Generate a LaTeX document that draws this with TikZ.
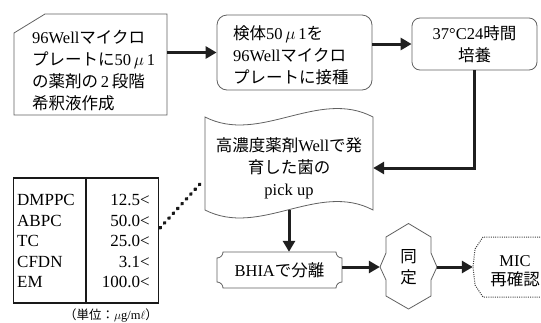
\documentclass[tikz,border=0pt]{standalone}
\usepackage{fontspec}
\setmainfont{Liberation Serif}
\newfontfamily\jpf{Noto Sans CJK JP}
\newcommand{\J}[1]{{\jpf #1}}
\usetikzlibrary{arrows.meta,calc}
\begin{document}
\begin{tikzpicture}[x=1pt,y=-1pt,
  outl/.style={draw=black!62, line width=0.8pt},
  flow/.style={draw=black!88, line width=3pt, -{Triangle[length=11pt,width=12pt]}},
  txt/.style={inner sep=0pt, font=\fontsize{16.5}{22}\selectfont},
  holder/.style={inner sep=0pt},
  dotline/.style={draw=black!90, line width=3.6pt, line cap=round, dash pattern=on 0.8pt off 5.7pt},
  micline/.style={draw=black!75, line width=1pt, dash pattern=on 1pt off 1.2pt}]
\useasboundingbox (0,0) rectangle (541,322);

% box 1 (manual input)
\node[holder, minimum width=153pt, minimum height=101pt] (b1) at (90.5,64.5) {};
\draw[outl] (14,115) -- (14,33) -- (45,14) -- (167,14) -- (167,115) -- cycle;
\node[txt, anchor=west, align=left] (b1t) at (32,70.5)
  {96Well\J{マイクロ}\\\J{プレートに}50\,$\mu$\,1\\\J{の薬剤の}\,2\,\J{段階}\\\J{希釈液作成}};

% box 2
\node[outl, holder, rounded corners=10pt, minimum width=155pt, minimum height=75pt] (b2) at (294.5,52.5) {};
\node[txt, anchor=west, align=left] (b2t) at (233,55)
  {\J{検体}50\,$\mu$\,1\J{を}\\96Well\J{マイクロ}\\\J{プレートに接種}};

% box 3
\node[outl, txt, rounded corners=8pt, minimum width=125pt, minimum height=52pt,
      align=center] (b3) at (474.5,44) {37°C24\J{時間}\\\J{培養}};

% tape
\node[txt, minimum width=168pt, minimum height=84pt, align=center] (tp) at (289,168)
  {\J{高濃度薬剤}Well\J{で発}\\\J{育した菌の}\\pick up};
\draw[outl] (205,117) .. controls (260,145) and (318,88) .. (373,117)
  -- (373,210) .. controls (318,181) and (260,238) .. (205,210) -- cycle;

% BHIA
\node[txt, minimum width=125pt, minimum height=36pt] (bh) at (279.5,270) {BHIA\J{で分離}};
\draw[outl] (223,252) -- (336,252) .. controls (336,255.3) and (338.7,258) .. (342,258)
  -- (342,282) .. controls (338.7,282) and (336,284.7) .. (336,288)
  -- (223,288) .. controls (223,284.7) and (220.3,282) .. (217,282)
  -- (217,258) .. controls (220.3,258) and (223,255.3) .. (223,252) -- cycle;

% identification star
\node[txt, minimum width=57pt, minimum height=86pt, align=center,
      font=\fontsize{16.5}{21}\selectfont] (dt) at (408.5,267) {\J{同}\\\J{定}};
\draw[outl] (408.5,223.5) -- (431,237) -- (431,253) -- (437,267) -- (431,280) -- (431,296)
  -- (408.5,309) -- (386,296) -- (386,280) -- (380,267) -- (386,253) -- (386,237) -- cycle;

% MIC
\node[txt, minimum width=84pt, minimum height=60pt, align=center,
      font=\fontsize{16.5}{19}\selectfont] (mic) at (515,271) {MIC\\\J{再確認}};
\draw[micline] (560,237) -- (483,237) -- (475,249) -- (473,267) -- (475,285) -- (483,297) -- (560,297);

% table
\node[holder, draw=black!90, line width=1.2pt, minimum width=145pt, minimum height=125pt] (tbl) at (86,240.5) {};
\draw[draw=black!90, line width=1.2pt] (tbl.north -| 86,0) -- (tbl.south -| 86,0);
\node[txt, anchor=west, align=left, font=\fontsize{17}{20.5}\selectfont] (tl) at (17,241)
  {DMPPC\\ABPC\\TC\\CFDN\\EM};
\node[txt, anchor=east, align=right, font=\fontsize{17}{20.5}\selectfont] (tr) at (150,241)
  {12.5<\\50.0<\\25.0<\\3.1<\\100.0<};
\node[txt, font=\fontsize{12.5}{15}\selectfont] (unit) at (111,315)
  {\J{（単位：}$\mu$g/m$\ell$\J{）}};

% connectors
\draw[flow] (b1.east |- b2.west) -- (b2.west);
\draw[flow] (b2.east |- b3.west) -- (b3.west);
\draw[flow] (b3.south) -- (b3.south |- tp.east) -- (tp.east);
\draw[flow] (tp.south) -- (tp.south |- bh.north);
\draw[flow] (bh.east |- dt.west) -- (dt.west);
\draw[flow] (dt.east) -- (dt.east -| mic.west);
\coordinate (d1) at (160,228);
\coordinate (d2) at (200,184);
\draw[dotline] (d1) -- (d2);
\end{tikzpicture}
\end{document}
